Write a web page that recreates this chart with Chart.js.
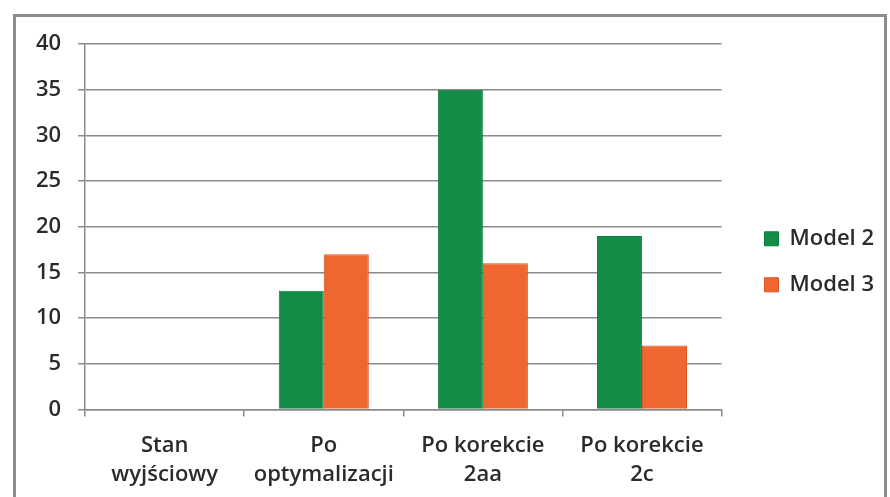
<!DOCTYPE html>
<html>
<head>
<meta charset="utf-8">
<script src="https://cdn.jsdelivr.net/npm/chart.js@4"></script>
<style>
  html, body { margin: 0; padding: 0; background: #fff; }
  body { width: 890px; height: 497px; position: relative; overflow: hidden; }
  #frame {
    position: absolute; left: 13px; top: 14px; width: 874px; height: 500px;
    border-left: 3px solid #8c8c8c; border-top: 3px solid #8c8c8c; border-right: 3px solid #8c8c8c;
    box-sizing: border-box;
  }
  #chart { position: absolute; left: 0; top: 0; }
</style>
</head>
<body>
<div id="frame"></div>
<canvas id="chart" width="890" height="497"></canvas>
<script>
const categories = [["Stan", "wyjściowy"], ["Po", "optymalizacji"], ["Po korekcie", "2aa"], ["Po korekcie", "2c"]];
const model2 = [0, 13, 35, 19];
const model3 = [0, 17, 16, 7];
const yTicks = [0, 5, 10, 15, 20, 25, 30, 35, 40];

const textColor = '#2b2b2b';
const gridColor = '#8a8a8a';
const font = { family: '"Open Sans", sans-serif', size: 22, weight: '600', lineHeight: 1.35 };

new Chart(document.getElementById('chart'), {
  type: 'bar',
  data: {
    labels: categories,
    datasets: [
      { label: 'Model 2', data: model2, backgroundColor: '#138c48', borderColor: '#0c7a3a', borderWidth: 1 },
      { label: 'Model 3', data: model3, backgroundColor: '#ef6630', borderColor: '#d9541f', borderWidth: 1 }
    ]
  },
  options: {
    responsive: false,
    animation: false,
    devicePixelRatio: 1,
    categoryPercentage: 0.566,
    barPercentage: 1.0,
    layout: { padding: { left: 19, right: 6, top: 44, bottom: -7 } },
    plugins: {
      legend: {
        position: 'right',
        fullSize: false,
        // blank title lowers the two entries beside the plot
        title: { display: true, text: ' ', padding: 0, font: { size: 70, lineHeight: 1 } },
        labels: {
          boxWidth: 14, boxHeight: 14, padding: 24,
          color: textColor, font: font
        }
      },
      tooltip: { enabled: false }
    },
    scales: {
      y: {
        min: 0, max: 40,
        afterBuildTicks: (axis) => { axis.ticks = yTicks.map(v => ({ value: v })); },
        ticks: { color: textColor, font: font, padding: 17 },
        grid: { color: gridColor, lineWidth: 1.5, tickLength: 7 },
        border: { color: gridColor, width: 1.5 }
      },
      // empty right-hand axis: keeps a gap between the plot and the legend
      gap: {
        type: 'linear', position: 'right', min: 0, max: 40,
        afterFit: (scale) => { scale.width = 19; },
        ticks: { display: false },
        grid: { display: false },
        border: { display: false }
      },
      x: {
        ticks: { color: textColor, font: font, padding: 14, maxRotation: 0 },
        grid: { drawOnChartArea: false, color: gridColor, lineWidth: 1.5, tickLength: 7 },
        border: { color: gridColor, width: 1.5 }
      }
    }
  }
});
</script>
</body>
</html>
